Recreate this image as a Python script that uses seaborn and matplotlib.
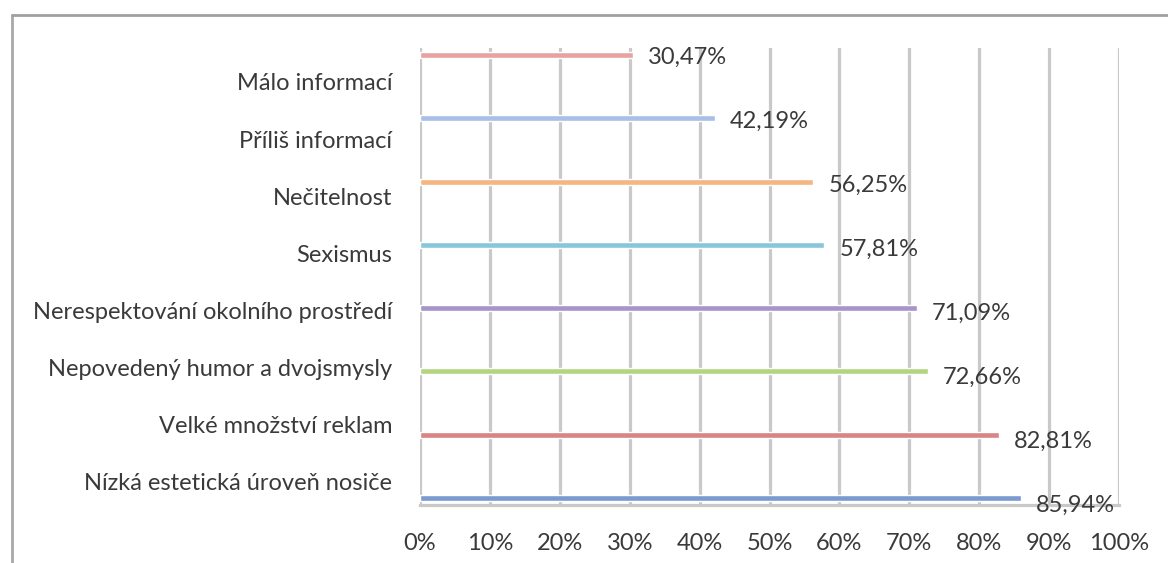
import matplotlib
matplotlib.use("Agg")
import matplotlib.pyplot as plt
from matplotlib.lines import Line2D
import numpy as np
import pandas as pd
import seaborn as sns

categories = [
    "Málo informací",
    "Příliš informací",
    "Nečitelnost",
    "Sexismus",
    "Nerespektování okolního prostředí",
    "Nepovedený humor a dvojsmysly",
    "Velké množství reklam",
    "Nízká estetická úroveň nosiče",
]
values = [30.47, 42.19, 56.25, 57.81, 71.09, 72.66, 82.81, 85.94]
value_labels = ["30,47%", "42,19%", "56,25%", "57,81%", "71,09%", "72,66%", "82,81%", "85,94%"]
colors = ["#E9A2A2", "#A8BFE7", "#F6B682", "#88C7DA", "#A795CA", "#B4D482", "#D98585", "#7B9AD0"]
x_ticks = [0, 10, 20, 30, 40, 50, 60, 70, 80, 90, 100]
x_tick_labels = [f"{t}%" for t in x_ticks]

sns.set_theme(style="white")
plt.rcParams["font.family"] = ["Lato", "DejaVu Sans"]

fig = plt.figure(figsize=(11.68, 5.63), dpi=100)
ax = fig.add_axes([420 / 1168, 1 - 505 / 563, (1119 - 420) / 1168, (505 - 48) / 563])

df = pd.DataFrame({"kategorie": categories, "podil": values})
sns.barplot(data=df, y="kategorie", x="podil", hue="kategorie", palette=colors,
            orient="h", width=0.095, legend=False, ax=ax, zorder=3, saturation=1)

ax.set_xlim(0, 100)
ax.set_ylim(7.11, -0.11)

# vertical gridlines
ax.set_xticks(x_ticks, x_tick_labels)
ax.xaxis.grid(True, color="#C9C9C9", linewidth=2.3, zorder=1)
ax.yaxis.grid(False)
ax.set_axisbelow(True)

# category labels sit on their own, slightly compressed spacing
n = len(categories)
label_pos = [(82 + 57.14 * i - 55) / 63.3 for i in range(n)]
ax.set_yticks(label_pos, categories)

ax.tick_params(axis="y", length=0, pad=20, labelsize=17, labelcolor="#3A3A3A")
ax.tick_params(axis="x", length=0, pad=20, labelsize=17, labelcolor="#3A3A3A")
ax.set_xlabel("")
ax.set_ylabel("")

for side in ["top", "right", "left"]:
    ax.spines[side].set_visible(False)
ax.spines["bottom"].set_color("#C9C9C9")
ax.spines["bottom"].set_linewidth(2.3)

for i, (v, lab) in enumerate(zip(values, value_labels)):
    ax.annotate(lab, xy=(v, i), xytext=(11, -2 - 0.5 * i), textcoords="offset points",
                ha="left", va="center", fontsize=17, color="#3A3A3A", zorder=5)

# outer chart frame (top and left edges)
fig.add_artist(Line2D([12 / 1168, 12 / 1168], [0, 1 - 15 / 563], transform=fig.transFigure,
                      color="#A8A8A8", linewidth=2))
fig.add_artist(Line2D([12 / 1168, 1], [1 - 15 / 563, 1 - 15 / 563], transform=fig.transFigure,
                      color="#A0A0A0", linewidth=2))

fig.savefig("out.png", dpi=100)
